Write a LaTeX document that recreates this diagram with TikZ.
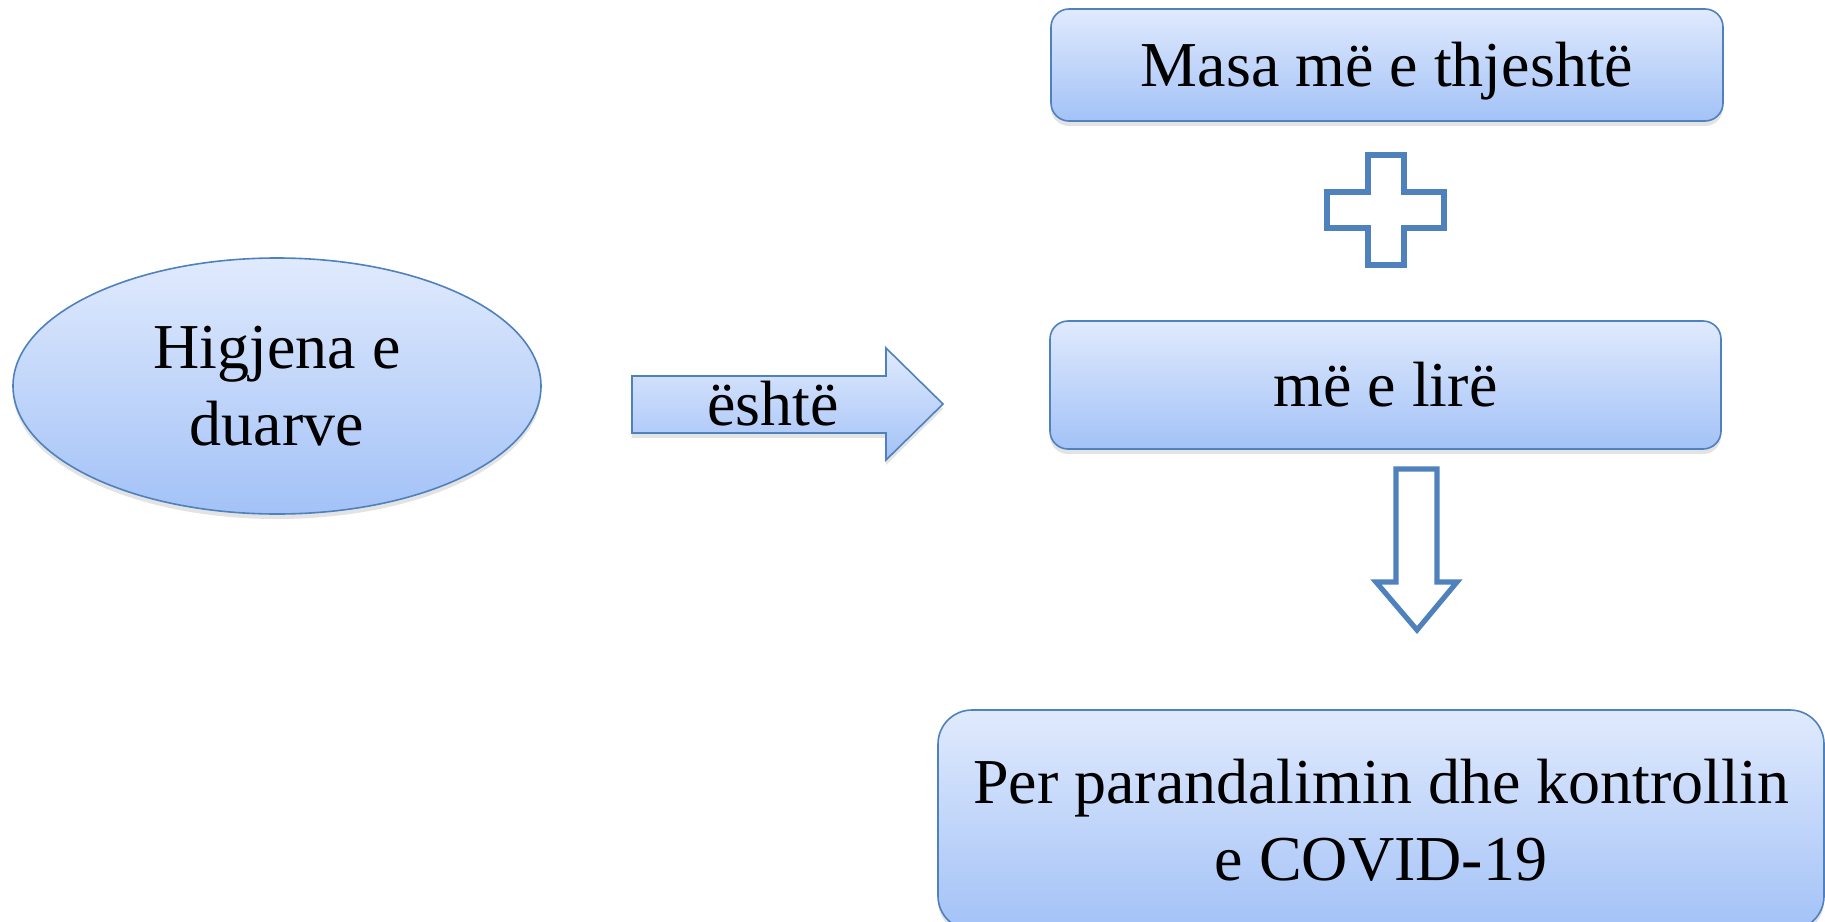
\documentclass[tikz,border=0pt]{standalone}
\usepackage{fontspec}
\setmainfont{Liberation Serif}
\usetikzlibrary{shapes.geometric,shadows}
\definecolor{bordblue}{RGB}{79,129,189}
\definecolor{fillTop}{RGB}{224,234,253}
\definecolor{fillBot}{RGB}{163,194,247}
\begin{document}
\begin{tikzpicture}[x=0.5pt,y=-0.5pt,
  fillsty/.style={draw=bordblue, line width=0.8pt, top color=fillTop, bottom color=fillBot,
    drop shadow={shadow xshift=0pt,shadow yshift=-2.5pt,opacity=0.22}},
  txt/.style={font=\fontsize{32}{38.5}\selectfont, align=center, inner sep=0pt},
  box/.style={fillsty, txt, rectangle, rounded corners=9pt},
  outl/.style={draw=bordblue, line width=2.6pt, fill=white, line join=miter}]
\useasboundingbox (0,0) rectangle (1825,921);

% ellipse
\node[fillsty, txt, ellipse, minimum width=264pt, minimum height=128pt] (hig) at (277,386) {Higjena e\\duarve};

% boxes
\node[box, minimum width=336pt, minimum height=56pt] (masa) at (1387,65) {\raisebox{-10.5pt}[0pt][0pt]{Masa më e thjeshtë}};
\node[box, minimum width=335.5pt, minimum height=64pt] (lire) at (1385.5,385) {më e lirë};
\node[box, rounded corners=17pt, minimum width=443pt, minimum height=110pt] (per) at (1381,820) {Per parandalimin dhe kontrollin\\e COVID-19};

% block arrow "është"
\draw[fillsty] (632,376) -- (886,376) -- (886,348) -- (943,404) -- (886,460) -- (886,433) -- (632,433) -- cycle;
\node[txt] (este) at (773,404) {është};

% plus sign
\draw[outl] (1368,155) -- (1404,155) -- (1404,192) -- (1444,192) -- (1444,228) -- (1404,228)
  -- (1404,265) -- (1368,265) -- (1368,228) -- (1327,228) -- (1327,192) -- (1368,192) -- cycle;

% down arrow
\draw[outl] (1396,469) -- (1437,469) -- (1437,582) -- (1457,582) -- (1417,630) -- (1376,582)
  -- (1396,582) -- cycle;
\end{tikzpicture}
\end{document}
